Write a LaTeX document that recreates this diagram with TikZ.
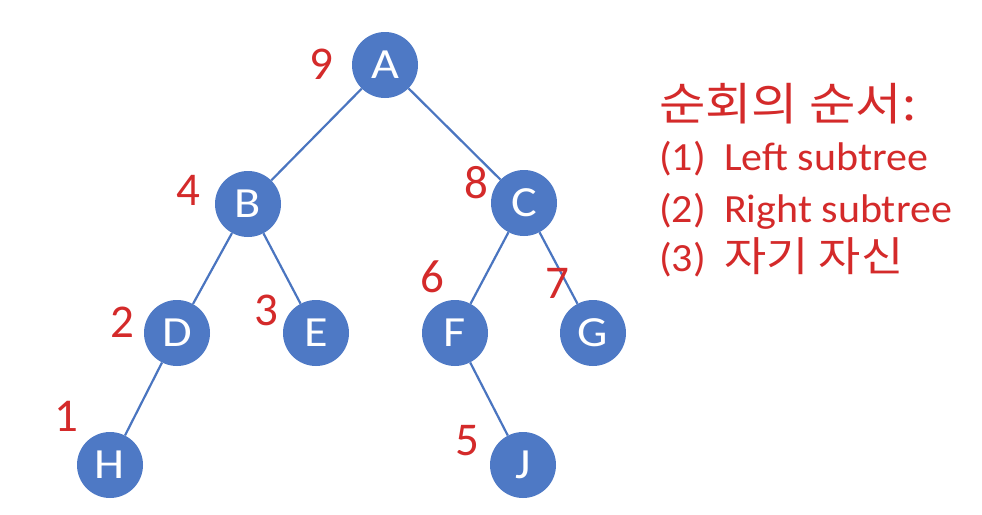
\documentclass[tikz,border=0pt]{standalone}
\usepackage{fontspec}
\setmainfont{Carlito}
\newfontfamily\latwide[FakeStretch=1.05]{Carlito}
\newfontfamily\letterfont[FakeStretch=1.12]{Carlito}
\newfontfamily\krfont[FakeStretch=1.12]{Noto Sans CJK KR}
\definecolor{nodeblue}{HTML}{4E79C5}
\definecolor{edgeblue}{HTML}{4A75C0}
\definecolor{numred}{HTML}{D42A2A}
\begin{document}
\begin{tikzpicture}[x=1pt,y=-1pt,
  tnode/.style={circle,fill=nodeblue,minimum size=66pt,inner sep=0pt,text=white,
    font=\letterfont\fontsize{43}{46}\selectfont},
  tedge/.style={draw=edgeblue,line width=2.2pt},
  order/.style={text=numred,font=\fontsize{47}{50}\selectfont,inner sep=0pt},
  rtext/.style={text=numred,anchor=base west,inner sep=0pt,font=\latwide\fontsize{40}{44}\selectfont}]
\useasboundingbox (0,0) rectangle (982,514);
\fill[white] (0,0) rectangle (982,514);
% nodes
\node[tnode] (A) at (385,65) {A};
\node[tnode] (B) at (248,204) {B};
\node[tnode] (C) at (524,203) {C};
\node[tnode] (D) at (177,333) {D};
\node[tnode] (E) at (316,333) {E};
\node[tnode] (F) at (455,333) {F};
\node[tnode] (G) at (593,333) {G};
\node[tnode] (H) at (110,465) {H};
\node[tnode] (J) at (523,465) {J};
% edges
\draw[tedge] (A) -- (B);
\draw[tedge] (A) -- (C);
\draw[tedge] (B) -- (D);
\draw[tedge] (B) -- (E);
\draw[tedge] (C) -- (F);
\draw[tedge] (C) -- (G);
\draw[tedge] (D) -- (H);
\draw[tedge] (F) -- (J);
% order numbers
\node[order] (n9) at (321,64) {9};
\node[order] (n4) at (188,190) {4};
\node[order] (n8) at (476,183) {8};
\node[order] (n2) at (122,322) {2};
\node[order] (n3) at (266,310) {3};
\node[order] (n6) at (432,277) {6};
\node[order] (n7) at (557,283) {7};
\node[order] (n1) at (66,416) {1};
\node[order] (n5) at (467,441) {5};
% legend
\node[rtext,font=\krfont\fontsize{45}{48}\selectfont] (t0) at (659,120) {순회의 순서:};
\node[rtext] (t1) at (659,170) {\makebox[65pt][l]{(1)}Left subtree};
\node[rtext] (t2) at (659,222) {\makebox[65pt][l]{(2)}Right subtree};
\node[rtext] (t3) at (659,271) {\makebox[65pt][l]{(3)}{\krfont\fontsize{41}{44}\selectfont 자기 자신}};
\end{tikzpicture}
\end{document}
